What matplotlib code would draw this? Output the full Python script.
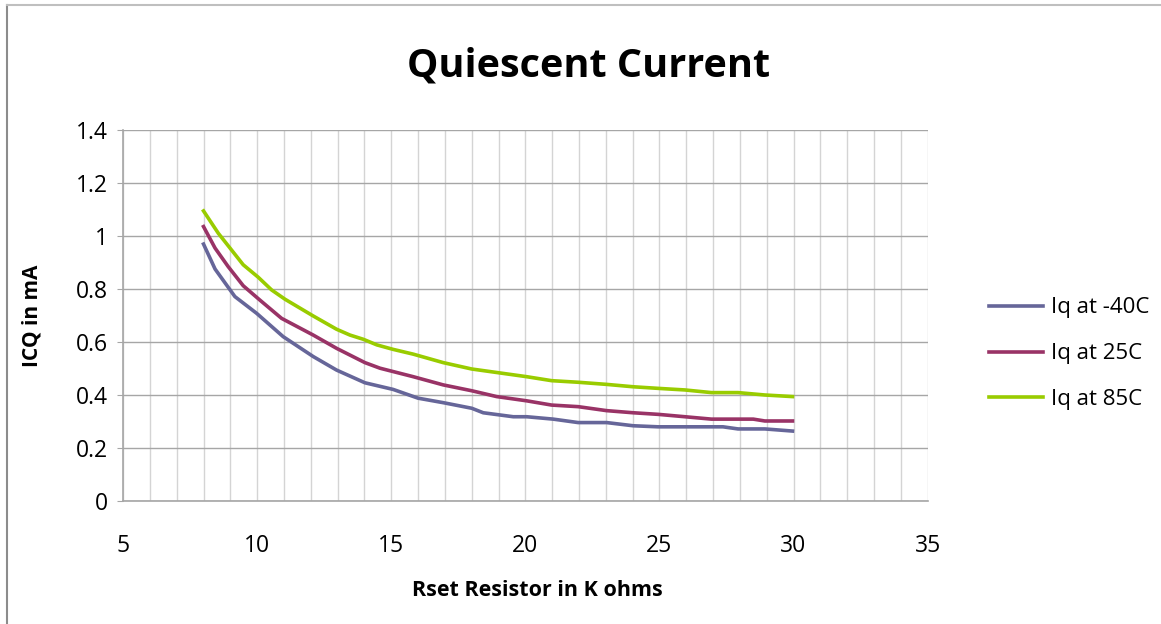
import numpy as np
import matplotlib
matplotlib.use('Agg')
import matplotlib.pyplot as plt
from matplotlib.ticker import MultipleLocator
from matplotlib.lines import Line2D

plt.rcParams['font.family'] = ['Open Sans', 'DejaVu Sans']

# Rset (K ohms) vs quiescent current (mA)
x_m40 = [8.0, 8.43, 9.17, 9.98, 10.97, 12.09, 12.96, 14.02, 15.07, 16.0, 16.94, 18.0,
         18.43, 19.55, 20.05, 21.04, 21.97, 23.03, 24.02, 24.95, 27.37, 27.93, 28.93, 29.96]
iq_m40 = [0.969, 0.875, 0.771, 0.708, 0.620, 0.545, 0.494, 0.446, 0.421, 0.388, 0.371, 0.350,
          0.333, 0.318, 0.318, 0.309, 0.296, 0.296, 0.284, 0.280, 0.280, 0.272, 0.272, 0.264]

x_25 = [8.0, 8.43, 8.92, 9.48, 10.1, 10.91, 12.09, 12.96, 14.02, 14.58, 15.82, 16.94, 18.0,
        18.93, 20.05, 20.98, 21.97, 23.03, 24.02, 24.95, 25.95, 26.94, 28.5, 28.93, 29.96]
iq_25 = [1.035, 0.954, 0.884, 0.812, 0.758, 0.689, 0.626, 0.576, 0.522, 0.501, 0.469, 0.438, 0.416,
         0.394, 0.378, 0.362, 0.356, 0.341, 0.333, 0.327, 0.318, 0.309, 0.309, 0.302, 0.302]

x_85 = [8.0, 8.55, 9.48, 10.04, 10.54, 11.04, 12.09, 12.96, 13.46, 13.96, 14.46, 15.07, 15.82,
        16.94, 18.0, 18.99, 20.05, 20.98, 21.97, 23.03, 24.02, 24.95, 25.95, 26.94, 27.93, 28.93, 29.96]
iq_85 = [1.094, 1.010, 0.891, 0.844, 0.796, 0.761, 0.698, 0.648, 0.626, 0.610, 0.589, 0.572, 0.554,
         0.522, 0.498, 0.484, 0.469, 0.454, 0.448, 0.440, 0.431, 0.425, 0.419, 0.409, 0.409, 0.400, 0.394]

labels = ['Iq at -40C', 'Iq at 25C', 'Iq at 85C']
colors = ['#666699', '#993366', '#99CC00']

fig = plt.figure(figsize=(11.61, 6.24), dpi=100)
ax = fig.add_axes([0.106, 0.197, 0.693, 0.595])

ax.plot(x_m40, iq_m40, c=colors[0], lw=2.6, solid_joinstyle='round')
ax.plot(x_25, iq_25, c=colors[1], lw=2.6, solid_joinstyle='round')
ax.plot(x_85, iq_85, c=colors[2], lw=2.6, solid_joinstyle='round')

ax.set_xlim(5, 35)
ax.set_ylim(0, 1.4)
ax.xaxis.set_major_locator(MultipleLocator(5))
ax.xaxis.set_minor_locator(MultipleLocator(1))
ax.set_yticks(np.arange(0, 1.41, 0.2))
ax.set_yticklabels(['0', '0.2', '0.4', '0.6', '0.8', '1', '1.2', '1.4'])

ax.grid(which='minor', axis='x', color='#D4D4D4', lw=1)
ax.grid(which='major', axis='x', color='#D4D4D4', lw=1)
ax.grid(which='major', axis='y', color='#A6A6A6', lw=1)
ax.set_axisbelow(True)

for s in ['top', 'right']:
    ax.spines[s].set_visible(False)
for s in ['left', 'bottom']:
    ax.spines[s].set_color('#A6A6A6')
    ax.spines[s].set_linewidth(1.2)

ax.tick_params(axis='y', which='major', length=4, color='#A6A6A6', labelsize=16.5, pad=7)
ax.tick_params(axis='x', which='both', length=0, labelsize=16.5, pad=24)

ax.set_xlabel('Rset Resistor in K ohms', fontsize=15.5, fontweight='bold')
ax.xaxis.set_label_coords(0.515, -0.212)
ax.set_ylabel('ICQ in mA', fontsize=15, fontweight='bold', labelpad=24)

fig.text(0.507, 0.895, 'Quiescent Current', ha='center', va='center', fontsize=28.5, fontweight='bold')

handles = [Line2D([], [], c=c, lw=2.6) for c in colors]
fig.legend(handles, labels, loc='center left', bbox_to_anchor=(0.835, 0.433), frameon=False,
           fontsize=16, handlelength=2.4, handletextpad=0.35, labelspacing=1.12)

# chart area border (left and top edges visible)
fig.add_artist(Line2D([0.006, 0.006], [0, 0.992], transform=fig.transFigure, c='#8C8C8C', lw=1.5))
fig.add_artist(Line2D([0.006, 1.0], [0.992, 0.992], transform=fig.transFigure, c='#BFBFBF', lw=1.5))

fig.savefig('out.png', dpi=100)
